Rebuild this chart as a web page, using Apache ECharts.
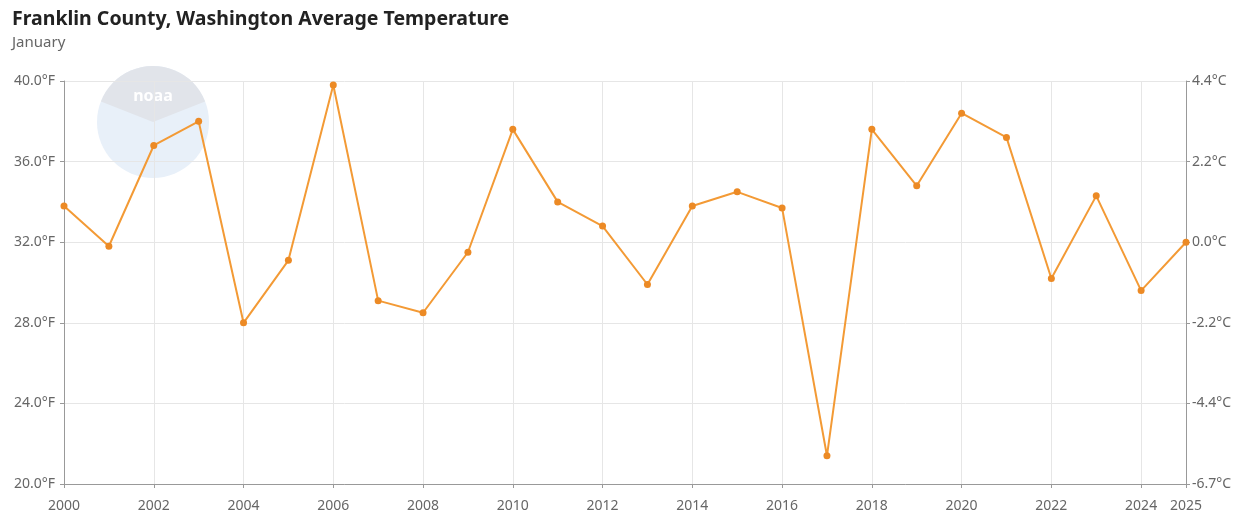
<!DOCTYPE html>
<html>
<head>
<meta charset="utf-8">
<title>Franklin County, Washington Average Temperature</title>
<script src="https://cdn.jsdelivr.net/npm/echarts@6/dist/echarts.min.js"></script>
<style>
  html, body { margin: 0; padding: 0; background: #fff; }
  #chart { width: 1247px; height: 517px; }
</style>
</head>
<body>
<div id="chart"></div>
<script>
// January average temperature, degrees F
var years = [2000, 2001, 2002, 2003, 2004, 2005, 2006, 2007, 2008, 2009,
  2010, 2011, 2012, 2013, 2014, 2015, 2016, 2017, 2018, 2019,
  2020, 2021, 2022, 2023, 2024, 2025]
var tempF = [33.8, 31.8, 36.8, 38.0, 28.0, 31.1, 39.8, 29.1, 28.5, 31.5,
  37.6, 34.0, 32.8, 29.9, 33.8, 34.5, 33.7, 21.4, 37.6, 34.8,
  38.4, 37.2, 30.2, 34.3, 29.6, 32.0]

var fMin = 20
var fMax = 40
var fStep = 4

var chart = echarts.init(document.getElementById('chart'))
var font = 'Noto Sans'

var option = {
  backgroundColor: '#fff',
  animation: false,
  title: {
    text: 'Franklin County, Washington Average Temperature',
    subtext: 'January',
    left: 7,
    top: 4,
    itemGap: 6,
    textStyle: { fontFamily: font, fontSize: 19.5, fontWeight: 'bold', color: '#222' },
    subtextStyle: { fontFamily: font, fontSize: 15, color: '#666' }
  },
  // faded logo watermark behind the plot
  graphic: [
    {
      type: 'group',
      left: 97,
      top: 66,
      silent: true,
      z: 0,
      children: [
        { type: 'circle', shape: { cx: 56, cy: 56, r: 56 }, style: { fill: '#e8f0f9' } },
        { type: 'sector', shape: { cx: 56, cy: 56, r: 56, r0: 0, startAngle: Math.PI * 1.12, endAngle: Math.PI * 1.88 }, style: { fill: '#e1e4ea' } },
        { type: 'text', style: { x: 56, y: 30, text: 'noaa', fill: '#fff', font: 'bold 16px Noto Sans', align: 'center', verticalAlign: 'middle' } }
      ]
    }
  ],
  grid: {
    left: 64,
    right: 61,
    top: 81,
    bottom: 33,
    containLabel: false
  },
  xAxis: {
    type: 'value',
    min: years[0],
    max: years[years.length - 1],
    interval: 2,
    axisLine: { show: true, lineStyle: { color: '#999' } },
    axisTick: { show: true, length: 4, lineStyle: { color: '#999' } },
    axisLabel: {
      color: '#666',
      fontFamily: font,
      fontSize: 14,
      margin: 15,
      showMaxLabel: true,
      formatter: function (v) { return String(v) }
    },
    splitLine: { show: true, lineStyle: { color: '#e6e6e6' } }
  },
  yAxis: [
    {
      type: 'value',
      min: fMin,
      max: fMax,
      interval: fStep,
      axisLine: { show: true, lineStyle: { color: '#999' } },
      axisTick: { show: true, length: 4, lineStyle: { color: '#999' } },
      axisLabel: {
        color: '#666',
        fontFamily: font,
        fontSize: 14,
        margin: 9,
        formatter: function (v) { return v.toFixed(1) + '°F' }
      },
      splitLine: { show: true, lineStyle: { color: '#e6e6e6' } }
    },
    {
      type: 'value',
      position: 'right',
      min: fMin,
      max: fMax,
      interval: fStep,
      axisLine: { show: true, lineStyle: { color: '#999' } },
      axisTick: { show: true, length: 4, lineStyle: { color: '#999' } },
      axisLabel: {
        color: '#666',
        fontFamily: font,
        fontSize: 14,
        margin: 6,
        formatter: function (v) {
          var c = (v - 32) * 5 / 9
          var s = c.toFixed(1)
          if (s === '-0.0') s = '0.0'
          return s + '°C'
        }
      },
      splitLine: { show: false }
    }
  ],
  series: [
    {
      type: 'line',
      yAxisIndex: 0,
      data: years.map(function (y, i) { return [y, tempF[i]] }),
      symbol: 'circle',
      symbolSize: 7,
      lineStyle: { color: '#f39a35', width: 2 },
      itemStyle: { color: '#ec8a25' },
      z: 3
    }
  ]
}

chart.setOption(option)
</script>
</body>
</html>
